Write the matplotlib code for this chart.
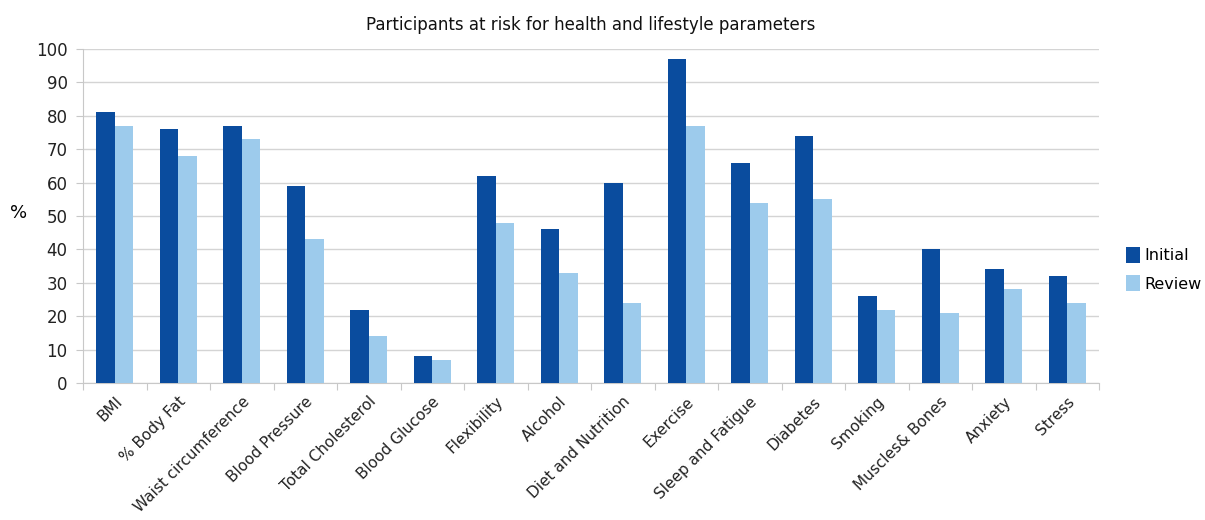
import numpy as np
import matplotlib.pyplot as plt

# Data
categories = ['BMI', '% Body Fat', 'Waist circumference', 'Blood Pressure',
              'Total Cholesterol', 'Blood Glucose', 'Flexibility', 'Alcohol',
              'Diet and Nutrition', 'Exercise', 'Sleep and Fatigue', 'Diabetes',
              'Smoking', 'Muscles& Bones', 'Anxiety', 'Stress']
initial = [81, 76, 77, 59, 22, 8, 62, 46, 60, 97, 66, 74, 26, 40, 34, 32]
review = [77, 68, 73, 43, 14, 7, 48, 33, 24, 77, 54, 55, 22, 21, 28, 24]

x = np.arange(len(categories))
w = 0.29

fig = plt.figure(figsize=(12.05, 5.2), dpi=100)
ax = fig.add_axes([83 / 1205, 1 - 383 / 520, (1099 - 83) / 1205, (383 - 49) / 520])

ax.bar(x - w / 2, initial, w, color='#0A4C9E', label='Initial', zorder=3)
ax.bar(x + w / 2, review, w, color='#9DCBEC', label='Review', zorder=3)

ax.set_xlim(-0.5, len(categories) - 0.5)
ax.set_ylim(0, 100)
ax.set_yticks(range(0, 101, 10))
ax.yaxis.grid(True, color='#d4d4d4', linewidth=1, zorder=0)

# category ticks sit between the groups
ax.set_xticks(np.arange(-0.5, len(categories), 1), minor=False)
ax.set_xticklabels([])
ax.set_xticks(x, minor=True)
ax.set_xticklabels(categories, minor=True, rotation=45, ha='right',
                   rotation_mode='anchor', fontsize=11, color='#222222')
ax.tick_params(axis='x', which='minor', length=0, pad=8)
ax.tick_params(axis='x', which='major', length=5, color='#c8c8c8', direction='out')
ax.tick_params(axis='y', length=5, color='#c8c8c8', labelsize=12, labelcolor='#222222', pad=6)

for s in ['top', 'right']:
    ax.spines[s].set_visible(False)
ax.spines['left'].set_color('#c8c8c8')
ax.spines['bottom'].set_color('#c8c8c8')

fig.text(19 / 1205, 1 - 213 / 520, '%', fontsize=13, ha='center', va='center')
ax.set_title('Participants at risk for health and lifestyle parameters',
             fontsize=12, pad=14, color='#111111')

ax.legend(loc='center left', bbox_to_anchor=(1.012, 0.34), frameon=False,
          fontsize=11.5, handlelength=0.9, handleheight=1.1, handletextpad=0.3,
          labelspacing=0.75)

fig.savefig('out.png', dpi=100)
